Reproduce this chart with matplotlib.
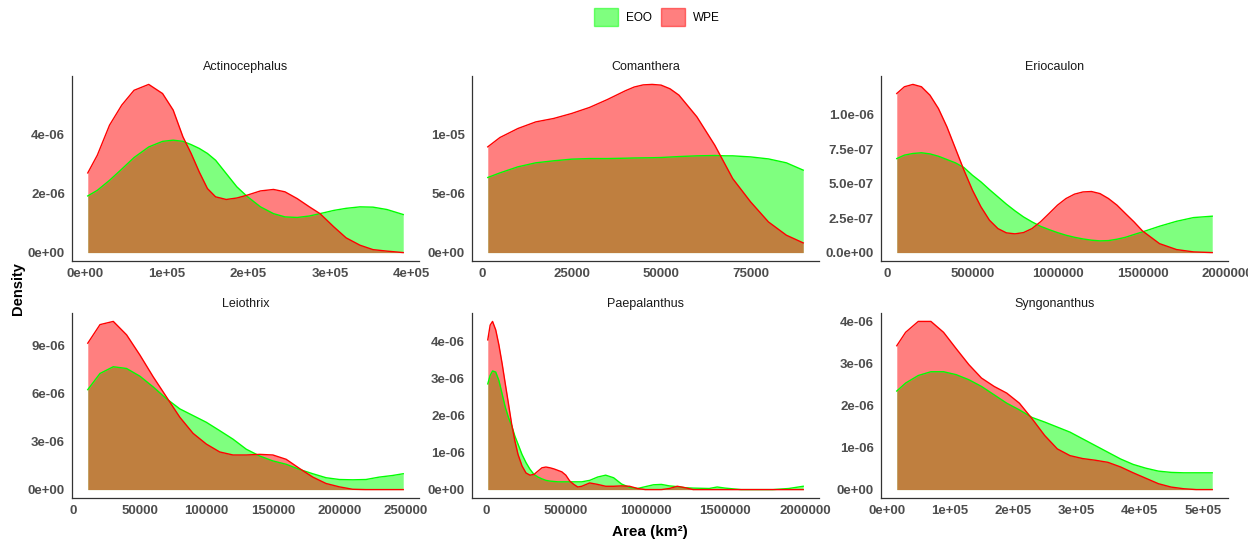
"""
Density of range area (EOO vs WPE) per genus, faceted 2x3, ggplot-like styling.
"""

import matplotlib
matplotlib.use("Agg")
import matplotlib.pyplot as plt
import matplotlib.patches as mpatches

plt.rcParams["font.family"] = ["Liberation Sans", "DejaVu Sans"]

# ── Data (density curves) ─────────────────────────────────────────────────────

GENERA = ["Actinocephalus", "Comanthera", "Eriocaulon",
          "Leiothrix", "Paepalanthus", "Syngonanthus"]

ACTI_X = [3.3e3, 1.5e4, 3.0e4, 4.5e4, 6.0e4, 7.8e4, 9.5e4, 1.08e5, 1.2e5, 1.3e5,
          1.4e5, 1.5e5, 1.6e5, 1.73e5, 1.86e5, 1.98e5, 2.15e5, 2.31e5, 2.45e5,
          2.6e5, 2.75e5, 2.88e5, 3.05e5, 3.2e5, 3.37e5, 3.53e5, 3.7e5, 3.9e5]
ACTI_EOO = [1.92e-6, 2.11e-6, 2.45e-6, 2.83e-6, 3.22e-6, 3.58e-6, 3.77e-6, 3.81e-6,
            3.77e-6, 3.66e-6, 3.53e-6, 3.36e-6, 3.13e-6, 2.68e-6, 2.23e-6, 1.92e-6,
            1.55e-6, 1.32e-6, 1.21e-6, 1.19e-6, 1.24e-6, 1.32e-6, 1.43e-6, 1.50e-6,
            1.55e-6, 1.54e-6, 1.46e-6, 1.29e-6]
ACTI_WPE = [2.70e-6, 3.30e-6, 4.32e-6, 5.00e-6, 5.50e-6, 5.70e-6, 5.39e-6, 4.83e-6,
            3.92e-6, 3.36e-6, 2.73e-6, 2.17e-6, 1.89e-6, 1.80e-6, 1.85e-6, 1.94e-6,
            2.09e-6, 2.14e-6, 2.06e-6, 1.83e-6, 1.55e-6, 1.32e-6, 0.87e-6, 0.50e-6,
            0.25e-6, 0.10e-6, 0.05e-6, 0.0]

COMA_X = [1.6e3, 5e3, 1e4, 1.5e4, 2e4, 2.5e4, 3e4, 3.5e4, 4e4, 4.25e4, 4.5e4, 4.75e4,
          5e4, 5.25e4, 5.5e4, 6e4, 6.5e4, 6.8e4, 7e4, 7.5e4, 8e4, 8.5e4, 8.97e4]
COMA_EOO = [6.35e-6, 6.74e-6, 7.25e-6, 7.59e-6, 7.76e-6, 7.90e-6, 7.95e-6, 7.95e-6,
            7.98e-6, 8.00e-6, 8.01e-6, 8.02e-6, 8.04e-6, 8.08e-6, 8.12e-6, 8.18e-6,
            8.21e-6, 8.18e-6, 8.18e-6, 8.09e-6, 7.92e-6, 7.59e-6, 6.97e-6]
COMA_WPE = [8.94e-6, 9.73e-6, 1.049e-5, 1.105e-5, 1.134e-5, 1.176e-5, 1.227e-5,
            1.294e-5, 1.368e-5, 1.400e-5, 1.418e-5, 1.422e-5, 1.416e-5, 1.385e-5,
            1.331e-5, 1.148e-5, 9.08e-6, 7.39e-6, 6.26e-6, 4.29e-6, 2.59e-6,
            1.47e-6, 0.82e-6]

ERIO_X = [5.5e4, 1e5, 1.5e5, 2e5, 2.5e5, 3e5, 3.5e5, 4e5, 4.5e5, 5e5, 5.5e5, 6e5,
          6.5e5, 7e5, 7.5e5, 8e5, 8.5e5, 9e5, 9.5e5, 1.0e6, 1.05e6, 1.1e6, 1.15e6,
          1.2e6, 1.25e6, 1.3e6, 1.35e6, 1.4e6, 1.45e6, 1.5e6, 1.6e6, 1.7e6, 1.8e6,
          1.91e6]
ERIO_EOO = [6.82e-7, 7.07e-7, 7.19e-7, 7.24e-7, 7.16e-7, 6.99e-7, 6.75e-7, 6.51e-7,
            6.17e-7, 5.61e-7, 5.13e-7, 4.57e-7, 4.04e-7, 3.51e-7, 3.03e-7, 2.59e-7,
            2.23e-7, 1.91e-7, 1.67e-7, 1.45e-7, 1.26e-7, 1.11e-7, 9.9e-8, 9.0e-8,
            8.5e-8, 8.7e-8, 9.7e-8, 1.11e-7, 1.31e-7, 1.50e-7, 1.91e-7, 2.27e-7,
            2.54e-7, 2.64e-7]
ERIO_WPE = [1.154e-6, 1.203e-6, 1.220e-6, 1.203e-6, 1.142e-6, 1.045e-6, 9.12e-7,
            7.55e-7, 5.98e-7, 4.53e-7, 3.32e-7, 2.35e-7, 1.74e-7, 1.43e-7, 1.36e-7,
            1.45e-7, 1.74e-7, 2.23e-7, 2.83e-7, 3.44e-7, 3.92e-7, 4.24e-7, 4.40e-7,
            4.43e-7, 4.28e-7, 3.92e-7, 3.44e-7, 2.83e-7, 2.23e-7, 1.57e-7, 6.5e-8,
            2.2e-8, 5e-9, 0.0]

LEIO_X = [1.08e4, 2e4, 3e4, 4e4, 5e4, 6e4, 7e4, 8e4, 9e4, 1e5, 1.1e5, 1.2e5, 1.3e5,
          1.4e5, 1.5e5, 1.6e5, 1.7e5, 1.8e5, 1.9e5, 2e5, 2.1e5, 2.2e5, 2.3e5, 2.4e5,
          2.48e5]
LEIO_EOO = [6.24e-6, 7.25e-6, 7.67e-6, 7.56e-6, 7.08e-6, 6.41e-6, 5.67e-6, 5.04e-6,
            4.62e-6, 4.20e-6, 3.68e-6, 3.15e-6, 2.52e-6, 2.10e-6, 1.79e-6, 1.58e-6,
            1.26e-6, 9.9e-7, 7.4e-7, 6.3e-7, 6.1e-7, 6.3e-7, 7.8e-7, 8.8e-7, 9.9e-7]
LEIO_WPE = [9.14e-6, 1.03e-5, 1.05e-5, 9.66e-6, 8.40e-6, 7.04e-6, 5.78e-6, 4.52e-6,
            3.51e-6, 2.84e-6, 2.35e-6, 2.16e-6, 2.16e-6, 2.20e-6, 2.16e-6, 1.89e-6,
            1.32e-6, 7.8e-7, 3.8e-7, 1.7e-7, 2e-8, 0.0, 0.0, 0.0, 0.0]

PAEP_X = [1e4, 2.5e4, 4e4, 6e4, 8e4, 1e5, 1.2e5, 1.4e5, 1.6e5, 1.8e5, 2e5, 2.25e5,
          2.5e5, 2.75e5, 3e5, 3.25e5, 3.5e5, 3.75e5, 4e5, 4.25e5, 4.5e5, 4.75e5,
          5e5, 5.25e5, 5.5e5, 5.75e5, 6e5, 6.5e5, 7e5, 7.5e5, 8e5, 8.5e5, 9e5,
          9.5e5, 1e6, 1.05e6, 1.1e6, 1.15e6, 1.2e6, 1.25e6, 1.3e6, 1.4e6, 1.45e6,
          1.5e6, 1.6e6, 1.7e6, 1.8e6, 1.9e6, 1.99e6]
PAEP_EOO = [2.86e-6, 3.09e-6, 3.21e-6, 3.18e-6, 2.95e-6, 2.59e-6, 2.23e-6, 1.95e-6,
            1.73e-6, 1.45e-6, 1.23e-6, 9.5e-7, 7.3e-7, 5.5e-7, 4.1e-7, 3.4e-7,
            2.9e-7, 2.5e-7, 2.3e-7, 2.2e-7, 2.1e-7, 2.1e-7, 2.1e-7, 2.1e-7, 2.1e-7,
            2.1e-7, 2.1e-7, 2.5e-7, 3.4e-7, 3.9e-7, 3.2e-7, 1.5e-7, 6e-8, 3e-8,
            8e-8, 1.3e-7, 1.4e-7, 1.0e-7, 8e-8, 5e-8, 4e-8, 3e-8, 7e-8, 4e-8, 0.0,
            0.0, 0.0, 3e-8, 9e-8]
PAEP_WPE = [4.05e-6, 4.45e-6, 4.55e-6, 4.32e-6, 3.91e-6, 3.41e-6, 2.86e-6, 2.32e-6,
            1.77e-6, 1.32e-6, 9.5e-7, 6.4e-7, 4.5e-7, 3.9e-7, 4.1e-7, 5.0e-7, 5.9e-7,
            6.1e-7, 5.9e-7, 5.6e-7, 5.2e-7, 4.8e-7, 3.9e-7, 2.3e-7, 1.4e-7, 7e-8,
            9e-8, 1.8e-7, 1.4e-7, 9e-8, 9e-8, 1.0e-7, 9e-8, 3e-8, 0.0, 0.0, 0.0,
            3e-8, 9e-8, 5e-8, 0.0, 0.0, 0.0, 0.0, 0.0, 0.0, 0.0, 0.0, 0.0]

SYNG_X = [1.6e4, 3e4, 5e4, 7e4, 9e4, 1.1e5, 1.3e5, 1.5e5, 1.7e5, 1.9e5, 2.1e5,
          2.3e5, 2.5e5, 2.7e5, 2.9e5, 3.1e5, 3.3e5, 3.5e5, 3.7e5, 3.9e5, 4.1e5,
          4.3e5, 4.5e5, 4.7e5, 4.9e5, 5.15e5]
SYNG_EOO = [2.35e-6, 2.54e-6, 2.72e-6, 2.81e-6, 2.81e-6, 2.74e-6, 2.62e-6, 2.46e-6,
            2.26e-6, 2.06e-6, 1.90e-6, 1.72e-6, 1.61e-6, 1.49e-6, 1.37e-6, 1.21e-6,
            1.05e-6, 8.9e-7, 7.3e-7, 6.0e-7, 5.1e-7, 4.4e-7, 4.1e-7, 4.0e-7, 4.0e-7,
            4.0e-7]
SYNG_WPE = [3.43e-6, 3.75e-6, 4.01e-6, 4.01e-6, 3.75e-6, 3.36e-6, 2.98e-6, 2.66e-6,
            2.46e-6, 2.30e-6, 2.06e-6, 1.69e-6, 1.29e-6, 9.7e-7, 8.1e-7, 7.4e-7,
            7.0e-7, 6.5e-7, 5.4e-7, 4.0e-7, 2.7e-7, 1.4e-7, 6e-8, 2e-8, 0.0, 0.0]

# Tick positions / labels per facet
X_TICKS = [
    [0, 1e5, 2e5, 3e5, 4e5],
    [0, 25000, 50000, 75000],
    [0, 5e5, 1e6, 1.5e6, 2e6],
    [0, 50000, 100000, 150000, 200000, 250000],
    [0, 5e5, 1e6, 1.5e6, 2e6],
    [0, 1e5, 2e5, 3e5, 4e5, 5e5],
]
X_LABELS = [
    ["0e+00", "1e+05", "2e+05", "3e+05", "4e+05"],
    ["0", "25000", "50000", "75000"],
    ["0", "500000", "1000000", "1500000", "2000000"],
    ["0", "50000", "100000", "150000", "200000", "250000"],
    ["0", "500000", "1000000", "1500000", "2000000"],
    ["0e+00", "1e+05", "2e+05", "3e+05", "4e+05", "5e+05"],
]
Y_TICKS = [
    [0, 2e-6, 4e-6],
    [0, 5e-6, 1e-5],
    [0, 2.5e-7, 5e-7, 7.5e-7, 1e-6],
    [0, 3e-6, 6e-6, 9e-6],
    [0, 1e-6, 2e-6, 3e-6, 4e-6],
    [0, 1e-6, 2e-6, 3e-6, 4e-6],
]
Y_LABELS = [
    ["0e+00", "2e-06", "4e-06"],
    ["0e+00", "5e-06", "1e-05"],
    ["0.0e+00", "2.5e-07", "5.0e-07", "7.5e-07", "1.0e-06"],
    ["0e+00", "3e-06", "6e-06", "9e-06"],
    ["0e+00", "1e-06", "2e-06", "3e-06", "4e-06"],
    ["0e+00", "1e-06", "2e-06", "3e-06", "4e-06"],
]

CURVES = [
    (ACTI_X, ACTI_EOO, ACTI_WPE),
    (COMA_X, COMA_EOO, COMA_WPE),
    (ERIO_X, ERIO_EOO, ERIO_WPE),
    (LEIO_X, LEIO_EOO, LEIO_WPE),
    (PAEP_X, PAEP_EOO, PAEP_WPE),
    (SYNG_X, SYNG_EOO, SYNG_WPE),
]

EOO_COLOR = "#00FF00"
WPE_COLOR = "#FF0000"

# ── Layout (pixels, origin top-left) ──────────────────────────────────────────

W, H = 1248, 544
COL_LEFT = [72, 472, 881]
PANEL_W = 347
ROW_TOP = [76, 313]
PANEL_H = 185

fig = plt.figure(figsize=(W / 100, H / 100), dpi=100)

for i, genus in enumerate(GENERA):
    row, col = divmod(i, 3)
    left = COL_LEFT[col] / W
    bottom = 1 - (ROW_TOP[row] + PANEL_H) / H
    ax = fig.add_axes([left, bottom, PANEL_W / W, PANEL_H / H])

    x, eoo, wpe = CURVES[i]
    ax.fill_between(x, 0, eoo, color=EOO_COLOR, alpha=0.5, lw=0)
    ax.plot(x, eoo, color=EOO_COLOR, lw=1.0)
    ax.fill_between(x, 0, wpe, color=WPE_COLOR, alpha=0.5, lw=0)
    ax.plot(x, wpe, color=WPE_COLOR, lw=1.0)

    ax.margins(x=0.05, y=0.05)
    ax.set_xticks(X_TICKS[i])
    ax.set_xticklabels(X_LABELS[i])
    ax.set_yticks(Y_TICKS[i])
    ax.set_yticklabels(Y_LABELS[i])
    ax.tick_params(length=0, pad=5, labelsize=9.5, labelcolor="#4D4D4D")
    for lab in ax.get_xticklabels() + ax.get_yticklabels():
        lab.set_fontweight("bold")

    for side in ["top", "right"]:
        ax.spines[side].set_visible(False)
    for side in ["left", "bottom"]:
        ax.spines[side].set_color("#333333")
        ax.spines[side].set_linewidth(0.9)

    ax.set_title(genus, fontsize=9, color="#1A1A1A", pad=4)

# Shared axis labels
fig.text(18 / W, 1 - 289 / H, "Density", rotation=90, ha="center", va="center",
         fontsize=10.5, fontweight="bold")
fig.text(650 / W, 1 - 532 / H, "Area (km²)", ha="center", va="center",
         fontsize=11, fontweight="bold")

# Legend on top
handles = [
    mpatches.Patch(facecolor=EOO_COLOR, alpha=0.5, edgecolor=EOO_COLOR, label="EOO"),
    mpatches.Patch(facecolor=WPE_COLOR, alpha=0.5, edgecolor=WPE_COLOR, label="WPE"),
]
fig.legend(handles=handles, loc="center", bbox_to_anchor=(657 / W, 1 - 17 / H),
           ncol=2, frameon=False, fontsize=8.5, handlelength=2.0,
           handleheight=1.9, handletextpad=0.7, columnspacing=0.8)

fig.savefig("out.png", dpi=100)
